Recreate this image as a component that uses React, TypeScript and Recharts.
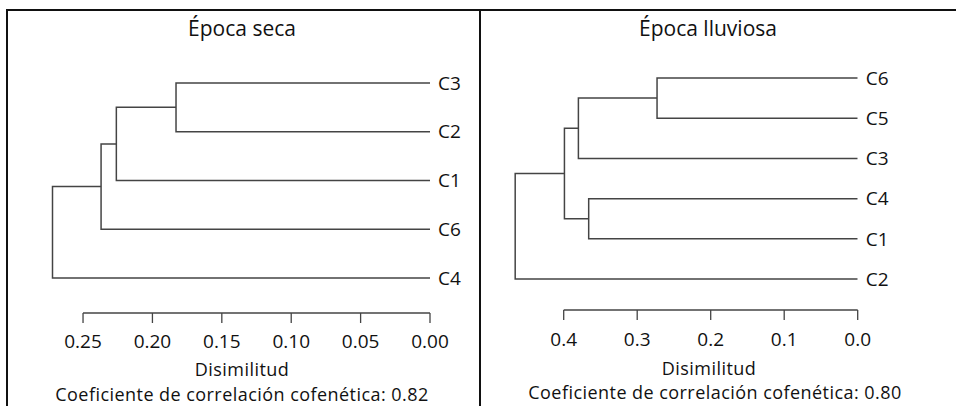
import React from "react";
import { ScatterChart, Scatter, XAxis, YAxis, ReferenceLine } from "recharts";

// Época seca
const secaLeaves = ["C3", "C2", "C1", "C6", "C4"];
const secaMerges: [string | number, string | number][] = [["C3", "C2"], [0, "C1"], [1, "C6"], [2, "C4"]];
const secaHeights = [0.183, 0.226, 0.237, 0.272];
const secaTicks = [0.25, 0.2, 0.15, 0.1, 0.05, 0];

// Época lluviosa
const lluviaLeaves = ["C6", "C5", "C3", "C4", "C1", "C2"];
const lluviaMerges: [string | number, string | number][] = [["C6", "C5"], [0, "C3"], ["C4", "C1"], [1, 2], [3, "C2"]];
const lluviaHeights = [0.273, 0.38, 0.366, 0.399, 0.466];
const lluviaTicks = [0.4, 0.3, 0.2, 0.1, 0];

const FONT = "'Open Sans', sans-serif";
const LINE = "#444";
const INK = "#111";

type Pt = { h: number; y: number };

function buildLinks(leaves: string[], merges: [string | number, string | number][], heights: number[]) {
  const nodes: Pt[] = [];
  const pos = (c: string | number): Pt => (typeof c === "number" ? nodes[c] : { h: 0, y: leaves.indexOf(c) });
  return merges.map(([a, b], i) => {
    const pa = pos(a);
    const pb = pos(b);
    const H = heights[i];
    nodes.push({ h: H, y: (pa.y + pb.y) / 2 });
    return [pa, { h: H, y: pa.y }, { h: H, y: pb.y }, pb];
  });
}

function Dendro(props: {
  leaves: string[];
  merges: [string | number, string | number][];
  heights: number[];
  ticks: number[];
  xMax: number;
  yMax: number;
  width: number;
  margin: { top: number; right: number; bottom: number; left: number };
  tickMargin: number;
  fmt: (v: number) => string;
}) {
  const links = buildLinks(props.leaves, props.merges, props.heights);
  const axisY = props.yMax;
  return (
    <ScatterChart width={props.width} height={406} margin={props.margin}>
      <XAxis
        type="number"
        dataKey="h"
        domain={[0, props.xMax]}
        reversed
        allowDataOverflow
        ticks={props.ticks}
        tickFormatter={props.fmt}
        axisLine={false}
        tickSize={10}
        tickMargin={props.tickMargin}
        height={30}
        tickLine={{ stroke: LINE, strokeWidth: 1.3 }}
        tick={{ fontSize: 19, fill: INK, fontFamily: FONT }}
      />
      <YAxis
        type="number"
        dataKey="y"
        orientation="right"
        domain={[-1, props.yMax]}
        reversed
        allowDataOverflow
        ticks={props.leaves.map((_, i) => i)}
        tickFormatter={(v: number) => props.leaves[v] ?? ""}
        axisLine={false}
        tickLine={false}
        width={40}
        interval={0}
        tick={{ fontSize: 19, fill: INK, fontFamily: FONT, textAnchor: "start" }}
      />
      <ReferenceLine
        segment={[{ x: props.ticks[0], y: axisY }, { x: 0, y: axisY }]}
        stroke={LINE}
        strokeWidth={1.3}
        ifOverflow="visible"
      />
      {links.map((pts, i) => (
        <Scatter
          key={i}
          data={pts}
          line={{ stroke: LINE, strokeWidth: 1.5 }}
          lineType="joint"
          shape={() => <g />}
          isAnimationActive={false}
        />
      ))}
    </ScatterChart>
  );
}

const txt = (left: number, top: number, width: number, s: string, size = 18, spacing = 0.45): React.ReactNode => (
  <div
    style={{
      position: "absolute",
      left,
      top,
      width,
      textAlign: "center",
      fontSize: size,
      lineHeight: size + "px",
      letterSpacing: spacing,
      color: INK,
      fontFamily: FONT,
      whiteSpace: "nowrap",
    }}
  >
    {s}
  </div>
);

export default function App() {
  return (
    <div style={{ position: "absolute", left: 0, top: 0, width: 956, height: 406, background: "#fff", overflow: "hidden", fontFamily: FONT }}>
      <div style={{ position: "absolute", left: 6, top: 9, width: 960, height: 400, borderTop: "2px solid #111", borderLeft: "2px solid #111" }} />
      <div style={{ position: "absolute", left: 479, top: 9, width: 2, height: 400, background: "#111" }} />

      <div style={{ position: "absolute", left: 0, top: 0 }}>
        <Dendro
          leaves={secaLeaves}
          merges={secaMerges}
          heights={secaHeights}
          ticks={secaTicks}
          xMax={0.28}
          yMax={4.72}
          width={480}
          margin={{ top: 34.25, right: 10, bottom: 63, left: 41.4 }}
          tickMargin={12}
          fmt={(v) => v.toFixed(2)}
        />
      </div>
      <div style={{ position: "absolute", left: 480, top: 0 }}>
        <Dendro
          leaves={lluviaLeaves}
          merges={lluviaMerges}
          heights={lluviaHeights}
          ticks={lluviaTicks}
          xMax={0.48}
          yMax={5.77}
          width={476}
          margin={{ top: 37.8, right: 58.3, bottom: 66, left: 24.9 }}
          tickMargin={13}
          fmt={(v) => v.toFixed(1)}
        />
      </div>

      {txt(142, 17.5, 200, "Época seca", 21, 0)}
      {txt(608, 17.5, 200, "Época lluviosa", 21, 0)}
      {txt(142, 360, 200, "Disimilitud")}
      {txt(609, 358.5, 200, "Disimilitud")}
      {txt(42, 384.5, 400, "Coeficiente de correlación cofenética: 0.82")}
      {txt(515, 383, 400, "Coeficiente de correlación cofenética: 0.80")}
    </div>
  );
}
